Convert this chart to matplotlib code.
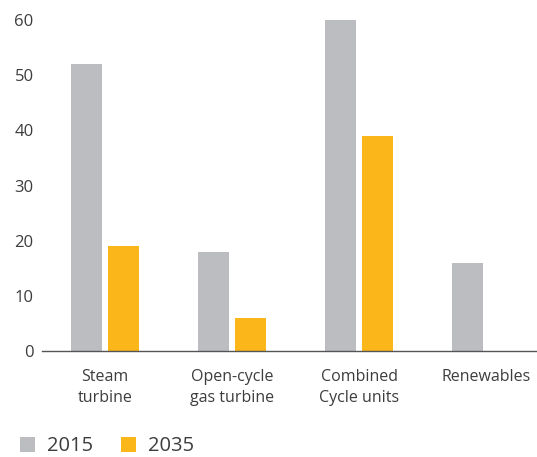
import matplotlib
matplotlib.use("Agg")
import matplotlib.pyplot as plt
import numpy as np

# data
categories = ["Steam\nturbine", "Open-cycle\ngas turbine", "Combined\nCycle units", "Renewables"]
years = ["2015", "2035"]
vals_2015 = [52, 18, 60, 16]
vals_2035 = [19, 6, 39, 0]
yticks = [0, 10, 20, 30, 40, 50, 60]

grey = "#bcbdc0"
orange = "#fbb61a"
txt = "#3d3d3d"

plt.rcParams['font.family'] = ['Open Sans', 'DejaVu Sans']

fig = plt.figure(figsize=(5.37, 4.57), dpi=100)
ax = fig.add_axes([42 / 537, 106 / 457, 1 - 42 / 537, (351 - 20) / 457])

x = np.arange(len(categories))
w = 0.245
off = 0.146
b1 = ax.bar(x - off, vals_2015, w, color=grey, label=years[0])
b2 = ax.bar(x + off, vals_2035, w, color=orange, label=years[1])

ax.set_xlim(-0.496, 3.40)
ax.set_ylim(0, 60)
ax.set_yticks(yticks)
ax.set_xticks(x)
ax.set_xticklabels(categories, fontsize=11.5, color=txt, linespacing=1.45)
ax.tick_params(axis='y', length=0, pad=6, labelsize=12, labelcolor=txt)
ax.tick_params(axis='x', length=0, pad=13)

for s in ['top', 'right', 'left']:
    ax.spines[s].set_visible(False)
ax.spines['bottom'].set_color("#555555")
ax.spines['bottom'].set_linewidth(1.0)

fig.legend(handles=[b1, b2], labels=years, loc='lower left', bbox_to_anchor=(0.003, -0.038),
           ncol=2, frameon=False, fontsize=14.5, labelcolor=txt, handlelength=0.75,
           handleheight=0.75, handletextpad=0.6, columnspacing=1.4)

fig.savefig("out.png", dpi=100)
